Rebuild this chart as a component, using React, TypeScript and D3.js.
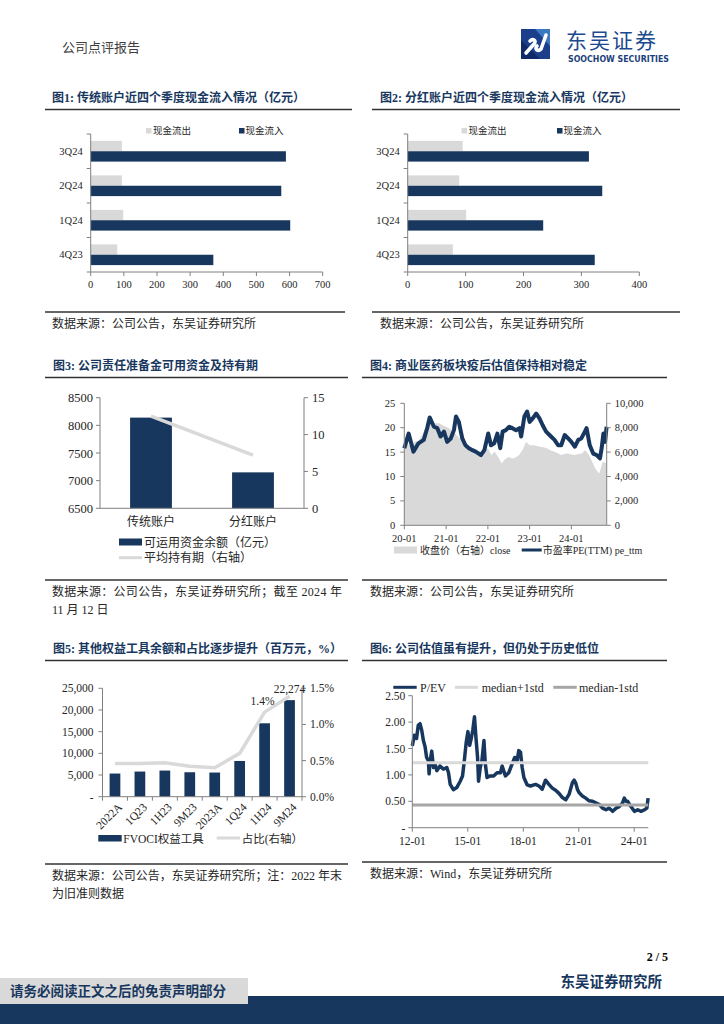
import * as d3 from "d3";

// ---- data ----
const quarters = ["3Q24", "2Q24", "1Q24", "4Q23"];
const tradOutflow = [94, 94, 98, 80];
const tradInflow = [589, 575, 602, 370];
const parOutflow = [95, 89, 101, 78];
const parInflow = [313, 336, 234, 323];

const accounts = ["传统账户", "分红账户"];
const availableFunds = [8140, 7150];
const avgHolding = [12.5, 7.2];

const peSeries: [string, number][] = [
  ["2020-01-01", 15.8], ["2020-02-08", 18.8], ["2020-03-21", 15.1], ["2020-05-04", 16.8], ["2020-06-19", 17.5],
  ["2020-07-19", 19.9], ["2020-08-10", 22.1], ["2020-09-16", 20.2], ["2020-10-16", 19.9], ["2020-11-13", 18.2],
  ["2020-12-13", 19.2], ["2021-01-10", 17.1], ["2021-02-10", 17.8], ["2021-03-10", 19.5], ["2021-03-28", 22.3],
  ["2021-04-22", 21.2], ["2021-05-22", 17.8], ["2021-06-19", 16.4], ["2021-07-19", 15.8], ["2021-08-19", 15.4],
  ["2021-09-16", 15.1], ["2021-11-01", 14.4], ["2021-12-01", 15.4], ["2022-01-04", 18.8], ["2022-01-28", 16.4],
  ["2022-02-25", 16.8], ["2022-03-25", 18.8], ["2022-04-19", 15.8], ["2022-05-10", 19.2], ["2022-06-07", 19.5],
  ["2022-07-07", 20.2], ["2022-08-04", 19.9], ["2022-09-04", 19.5], ["2022-10-04", 19.9], ["2022-10-19", 18.2],
  ["2022-11-16", 22.3], ["2022-12-10", 23.3], ["2023-01-01", 21.2], ["2023-01-28", 21.9], ["2023-02-28", 22.9],
  ["2023-03-28", 21.9], ["2023-04-25", 20.5], ["2023-05-25", 19.2], ["2023-07-07", 18.2], ["2023-08-07", 17.5],
  ["2023-09-07", 16.4], ["2023-10-04", 16.4], ["2023-11-04", 18.5], ["2023-12-04", 17.8], ["2024-01-01", 17.1],
  ["2024-02-01", 16.1], ["2024-03-01", 17.5], ["2024-03-28", 17.8], ["2024-04-28", 19.2], ["2024-05-13", 19.9],
  ["2024-06-10", 16.4], ["2024-07-10", 14.7], ["2024-08-10", 14.4], ["2024-09-07", 13.7], ["2024-09-22", 15.8],
  ["2024-10-07", 18.8], ["2024-10-22", 17.1], ["2024-11-04", 20.2],
];

const closeSeries: [string, number][] = [
  ["2020-01", 6560], ["2020-02", 6640], ["2020-03", 6480], ["2020-04", 6840], ["2020-05", 6920], ["2020-06", 7320],
  ["2020-07", 7960], ["2020-08", 8240], ["2020-09", 8360], ["2020-10", 8360], ["2020-11", 8360], ["2020-12", 8200],
  ["2021-01", 8080], ["2021-02", 7920], ["2021-03", 7680], ["2021-04", 7400], ["2021-05", 7120], ["2021-06", 6800],
  ["2021-07", 6560], ["2021-08", 6360], ["2021-09", 6160], ["2021-10", 6000], ["2021-11", 5880], ["2021-12", 6080],
  ["2022-01", 6320], ["2022-02", 5760], ["2022-03", 6040], ["2022-04", 5600], ["2022-05", 5080], ["2022-06", 5440],
  ["2022-07", 5600], ["2022-08", 5480], ["2022-09", 5560], ["2022-10", 5760], ["2022-11", 6200], ["2022-12", 6840],
  ["2023-01", 6560], ["2023-02", 6560], ["2023-03", 6520], ["2023-04", 6440], ["2023-05", 6400], ["2023-06", 6320],
  ["2023-07", 6160], ["2023-08", 6040], ["2023-09", 5920], ["2023-10", 5760], ["2023-11", 5840], ["2023-12", 5880],
  ["2024-01", 5800], ["2024-02", 5760], ["2024-03", 5840], ["2024-04", 5880], ["2024-05", 6160], ["2024-06", 5800],
  ["2024-07", 5200], ["2024-08", 4600], ["2024-09", 4240], ["2024-10", 5200], ["2024-11", 5080],
];

const fvociPeriods = ["2022A", "1Q23", "1H23", "9M23", "2023A", "1Q24", "1H24", "9M24"];
const fvociBalance = [5340, 5800, 6030, 5640, 5570, 8240, 16930, 22274];
const fvociShare = [0.46, 0.46, 0.47, 0.42, 0.4, 0.6, 1.17, 1.39];

const pevSeries: [string, number][] = [
  ["2012-01-01", 1.55], ["2012-02-10", 1.75], ["2012-03-25", 1.69], ["2012-04-28", 1.94], ["2012-06-01", 1.97],
  ["2012-07-04", 1.85], ["2012-08-07", 1.65], ["2012-09-10", 1.53], ["2012-10-10", 1.33], ["2012-11-13", 1.27],
  ["2012-11-28", 1.02], ["2012-12-16", 1.24], ["2013-01-19", 1.45], ["2013-02-22", 1.14], ["2013-03-25", 1.21],
  ["2013-04-28", 1.08], ["2013-07-01", 1.17], ["2013-09-07", 1.11], ["2013-11-13", 1.14], ["2013-12-16", 1.04],
  ["2014-01-19", 0.82], ["2014-03-22", 0.72], ["2014-05-28", 0.76], ["2014-08-04", 0.88], ["2014-09-19", 0.98],
  ["2014-10-28", 1.3], ["2014-12-01", 1.62], ["2015-01-04", 1.82], ["2015-02-07", 1.56], ["2015-03-10", 1.69],
  ["2015-04-10", 1.85], ["2015-05-13", 2.1], ["2015-06-10", 1.72], ["2015-07-13", 1.33], ["2015-08-01", 0.88],
  ["2015-09-04", 1.14], ["2015-10-07", 1.27], ["2015-11-16", 1.65], ["2015-12-13", 1.21], ["2016-01-16", 0.95],
  ["2016-03-22", 0.98], ["2016-05-25", 0.98], ["2016-08-01", 1.04], ["2016-10-07", 1.04], ["2016-11-10", 1.17],
  ["2017-01-13", 0.98], ["2017-03-19", 1.04], ["2017-05-25", 1.21], ["2017-07-16", 1.33], ["2017-09-01", 1.27],
  ["2017-10-04", 1.46], ["2017-11-07", 1.43], ["2017-12-10", 1.14], ["2018-01-13", 0.95], ["2018-03-19", 0.81],
  ["2018-05-22", 0.79], ["2018-09-01", 0.82], ["2018-11-07", 0.79], ["2019-01-10", 0.73], ["2019-03-16", 0.9],
  ["2019-05-22", 0.82], ["2019-07-28", 0.75], ["2019-10-01", 0.71], ["2019-12-07", 0.65], ["2020-02-13", 0.57],
  ["2020-04-19", 0.53], ["2020-06-22", 0.63], ["2020-08-28", 0.85], ["2020-10-01", 0.9], ["2020-11-04", 0.84],
  ["2020-12-07", 0.72], ["2021-01-10", 0.66], ["2021-03-13", 0.6], ["2021-05-19", 0.56], ["2021-07-25", 0.51],
  ["2021-10-01", 0.5], ["2021-12-04", 0.47], ["2022-02-10", 0.44], ["2022-04-16", 0.37], ["2022-06-22", 0.34],
  ["2022-08-25", 0.37], ["2022-11-01", 0.31], ["2023-01-07", 0.37], ["2023-03-10", 0.4], ["2023-05-16", 0.47],
  ["2023-06-19", 0.56], ["2023-07-22", 0.5], ["2023-08-25", 0.5], ["2023-10-28", 0.4], ["2024-01-04", 0.31],
  ["2024-03-10", 0.34], ["2024-05-16", 0.31], ["2024-07-22", 0.34], ["2024-09-07", 0.37], ["2024-10-01", 0.56],
];
const pevUpper = 1.23;
const pevLower = 0.43;

// ---- style ----
const NAVY = "#17375E";
const LIGHT = "#D9D9D9";
const MID = "#A6A6A6";
const AXIS = "#808080";
const INK = "#262626";
const FONT = '"Liberation Serif","Noto Sans CJK SC",serif';

const parseDay = d3.timeParse("%Y-%m-%d");
const parseMonth = d3.timeParse("%Y-%m");

function Title({ x, y, x1, x2, text }: { x: number; y: number; x1: number; x2: number; text: string }) {
  return (
    <g>
      <text x={x} y={y} fontSize={12} fontWeight={700} fill={NAVY}>{text}</text>
      <line x1={x1} x2={x2} y1={y + 7.5} y2={y + 7.5} stroke="#333" strokeWidth={1.5} />
    </g>
  );
}

function Source({ x, y, x1, x2, lines, fit }: { x: number; y: number; x1: number; x2: number; lines: string[]; fit?: number }) {
  return (
    <g>
      <line x1={x1} x2={x2} y1={y - 16} y2={y - 16} stroke="#333" strokeWidth={1.5} />
      {lines.map((l, i) => (
        <text key={i} x={x} y={y + i * 17.5} fontSize={12} fill={INK}
          textLength={i === 0 && fit ? fit : undefined} lengthAdjust="spacing">{l}</text>
      ))}
    </g>
  );
}

function CashFlow({ left, right, max, outflow, inflow, legendOutX, legendInX }:
  { left: number; right: number; max: number; outflow: number[]; inflow: number[]; legendOutX: number; legendInX: number }) {
  const top = 134, bottom = 272;
  const x = d3.scaleLinear().domain([0, max]).range([left, right]);
  const y = d3.scaleBand<string>().domain(quarters).range([top, bottom]).paddingInner(0.4).paddingOuter(0.2);
  const sub = d3.scaleBand<string>().domain(["out", "in"]).range([0, y.bandwidth()]);
  const bounds = quarters.map((q) => (y(q) ?? 0) - (y.step() * y.paddingInner()) / 2).concat([bottom]);
  return (
    <g>
      {quarters.map((q, i) => (
        <g key={q}>
          <rect x={x(0)} y={(y(q) ?? 0) + (sub("out") ?? 0)} width={x(outflow[i]) - x(0)} height={sub.bandwidth()} fill={LIGHT} />
          <rect x={x(0)} y={(y(q) ?? 0) + (sub("in") ?? 0)} width={x(inflow[i]) - x(0)} height={sub.bandwidth()} fill={NAVY} />
          <text x={left - 8} y={(y(q) ?? 0) + y.bandwidth() / 2 + 3.5} textAnchor="end" fontSize={10.5} fill={INK}>{q}</text>
        </g>
      ))}
      <line x1={left} x2={left} y1={top} y2={bottom} stroke={AXIS} />
      {bounds.map((b, i) => <line key={i} x1={left - 4} x2={left} y1={b} y2={b} stroke={AXIS} />)}
      <line x1={left} x2={right} y1={bottom} y2={bottom} stroke={AXIS} />
      {x.ticks(max / 100).map((t) => (
        <g key={t}>
          <line x1={x(t)} x2={x(t)} y1={bottom} y2={bottom + 4} stroke={AXIS} />
          <text x={x(t)} y={bottom + 16} textAnchor="middle" fontSize={10.5} fill={INK}>{t}</text>
        </g>
      ))}
      <rect x={legendOutX} y={128} width={5.5} height={5.5} fill={LIGHT} />
      <text x={legendOutX + 7} y={134} fontSize={9.5} fill={INK}>现金流出</text>
      <rect x={legendInX} y={128} width={5.5} height={5.5} fill={NAVY} />
      <text x={legendInX + 6.5} y={134} fontSize={9.5} fill={INK}>现金流入</text>
    </g>
  );
}

function ReserveChart() {
  const left = 100, right = 304, top = 397.7, bottom = 508.3;
  const x = d3.scaleBand<string>().domain(accounts).range([left, right]).paddingInner(0.59).paddingOuter(0.295);
  const y = d3.scaleLinear().domain([6500, 8500]).range([bottom, top]);
  const yr = d3.scaleLinear().domain([0, 15]).range([bottom, top]);
  const cx = (a: string) => (x(a) ?? 0) + x.bandwidth() / 2;
  const line = d3.line<number>().x((_, i) => cx(accounts[i])).y((v) => yr(v));
  return (
    <g>
      {accounts.map((a, i) => (
        <rect key={a} x={x(a)} y={y(availableFunds[i])} width={x.bandwidth()} height={bottom - y(availableFunds[i])} fill={NAVY} />
      ))}
      <path d={line(avgHolding) ?? ""} fill="none" stroke={LIGHT} strokeWidth={3.5} />
      <line x1={left} x2={left} y1={top} y2={bottom} stroke={AXIS} />
      <line x1={right} x2={right} y1={top} y2={bottom} stroke={AXIS} />
      <line x1={left} x2={right} y1={bottom} y2={bottom} stroke={AXIS} />
      {y.ticks(4).map((t) => (
        <g key={t}>
          <line x1={left - 4} x2={left} y1={y(t)} y2={y(t)} stroke={AXIS} />
          <text x={left - 7} y={y(t) + 4.5} textAnchor="end" fontSize={12.5} fill={INK}>{t}</text>
        </g>
      ))}
      {yr.ticks(3).map((t) => (
        <g key={t}>
          <line x1={right} x2={right + 4} y1={yr(t)} y2={yr(t)} stroke={AXIS} />
          <text x={right + 8} y={yr(t) + 4.5} fontSize={12.5} fill={INK}>{t}</text>
        </g>
      ))}
      {accounts.map((a) => (
        <text key={a} x={cx(a)} y={526} textAnchor="middle" fontSize={12} fill={INK}>{a}</text>
      ))}
      <rect x={119} y={538.5} width={23} height={7} fill={NAVY} />
      <text x={144} y={546.5} fontSize={12} fill={INK}>可运用资金余额（亿元）</text>
      <line x1={119} x2={142} y1={557.7} y2={557.7} stroke={LIGHT} strokeWidth={3} />
      <text x={144} y={562} fontSize={12} fill={INK}>平均持有期（右轴）</text>
    </g>
  );
}

function PeChart() {
  const left = 404.3, right = 606.7, top = 403.3, bottom = 525.3;
  const x = d3.scaleTime().domain([parseDay("2020-01-01")!, parseDay("2024-11-05")!]).range([left, right]);
  const y = d3.scaleLinear().domain([0, 25]).range([bottom, top]);
  const yr = d3.scaleLinear().domain([0, 10000]).range([bottom, top]);
  const area = d3.area<[string, number]>().x((d) => x(parseMonth(d[0])!)).y0(yr(0)).y1((d) => yr(d[1]));
  const line = d3.line<[string, number]>().x((d) => x(parseDay(d[0])!)).y((d) => y(d[1]));
  const years = d3.timeYear.range(parseDay("2020-01-01")!, parseDay("2024-12-01")!);
  const fmt = d3.timeFormat("%y-%m");
  return (
    <g>
      <path d={area(closeSeries) ?? ""} fill={LIGHT} />
      <path d={line(peSeries) ?? ""} fill="none" stroke={NAVY} strokeWidth={4} strokeLinejoin="round" />
      <line x1={left} x2={left} y1={top} y2={bottom} stroke={AXIS} />
      <line x1={right} x2={right} y1={top} y2={bottom} stroke={AXIS} />
      <line x1={left} x2={right} y1={bottom} y2={bottom} stroke={AXIS} />
      {y.ticks(5).map((t) => (
        <g key={t}>
          <line x1={left - 4} x2={left} y1={y(t)} y2={y(t)} stroke={AXIS} />
          <text x={left - 9} y={y(t) + 3.5} textAnchor="end" fontSize={10.5} fill={INK}>{t}</text>
        </g>
      ))}
      {yr.ticks(5).map((t) => (
        <g key={t}>
          <line x1={right} x2={right + 4} y1={yr(t)} y2={yr(t)} stroke={AXIS} />
          <text x={right + 8} y={yr(t) + 3.5} fontSize={10.5} fill={INK}>{d3.format(",")(t)}</text>
        </g>
      ))}
      {years.map((d) => (
        <g key={+d}>
          <line x1={x(d)} x2={x(d)} y1={bottom} y2={bottom + 4} stroke={AXIS} />
          <text x={x(d)} y={541.5} textAnchor="middle" fontSize={10.5} fill={INK}>{fmt(d)}</text>
        </g>
      ))}
      <rect x={394} y={546.5} width={23} height={7} fill={LIGHT} />
      <text x={420} y={554} fontSize={10} fill={INK}>收盘价（右轴）close</text>
      <line x1={521.7} x2={541.7} y1={550} y2={550} stroke={NAVY} strokeWidth={3} />
      <text x={542.7} y={554} fontSize={10} fill={INK}>市盈率PE(TTM) pe_ttm</text>
    </g>
  );
}

function FvociChart() {
  const left = 102.5, right = 302, top = 688.3, bottom = 796.7;
  const x = d3.scaleBand<string>().domain(fvociPeriods).range([left, right]).paddingInner(0.57).paddingOuter(0.285);
  const y = d3.scaleLinear().domain([0, 25000]).range([bottom, top]);
  const yr = d3.scaleLinear().domain([0, 1.5]).range([bottom, top]);
  const cx = (p: string) => (x(p) ?? 0) + x.bandwidth() / 2;
  const line = d3.line<number>().x((_, i) => cx(fvociPeriods[i])).y((v) => yr(v));
  const bounds = fvociPeriods.map((p) => (x(p) ?? 0) - (x.step() * x.paddingInner()) / 2).concat([right]);
  const last = fvociPeriods.length - 1;
  return (
    <g>
      {fvociPeriods.map((p, i) => (
        <rect key={p} x={x(p)} y={y(fvociBalance[i])} width={x.bandwidth()} height={bottom - y(fvociBalance[i])} fill={NAVY} />
      ))}
      <path d={line(fvociShare) ?? ""} fill="none" stroke={LIGHT} strokeWidth={3.5} />
      <line x1={left} x2={left} y1={top} y2={bottom} stroke={AXIS} />
      <line x1={right} x2={right} y1={top} y2={bottom} stroke={AXIS} />
      <line x1={left} x2={right} y1={bottom} y2={bottom} stroke={AXIS} />
      {bounds.map((b, i) => <line key={i} x1={b} x2={b} y1={bottom} y2={bottom + 4} stroke={AXIS} />)}
      {y.ticks(5).map((t) => (
        <g key={t}>
          <line x1={left - 4} x2={left} y1={y(t)} y2={y(t)} stroke={AXIS} />
          <text x={left - 9} y={y(t) + 4} textAnchor="end" fontSize={11.5} fill={INK}>{t === 0 ? "-" : d3.format(",")(t)}</text>
        </g>
      ))}
      {yr.ticks(3).map((t) => (
        <g key={t}>
          <line x1={right} x2={right + 4} y1={yr(t)} y2={yr(t)} stroke={AXIS} />
          <text x={right + 8} y={yr(t) + 4} fontSize={11.5} fill={INK}>{d3.format(".1f")(t)}%</text>
        </g>
      ))}
      {fvociPeriods.map((p) => (
        <text key={p} transform={`translate(${cx(p) + 5},${805}) rotate(-45)`} textAnchor="end" dy="0.35em" fontSize={11.5} fill={INK}>{p}</text>
      ))}
      <text x={cx(fvociPeriods[last])} y={693} textAnchor="middle" fontSize={11.5} fill={INK}>{d3.format(",")(fvociBalance[last])}</text>
      <text x={cx(fvociPeriods[last - 1]) - 2} y={705} textAnchor="middle" fontSize={11.5} fill={INK}>{d3.format(".1f")(fvociShare[last])}%</text>
      <rect x={98.3} y={835} width={23.4} height={6.5} fill={NAVY} />
      <text x={123.3} y={842.5} fontSize={11.5} fill={INK}>FVOCI权益工具</text>
      <line x1={216.7} x2={240} y1={838} y2={838} stroke={LIGHT} strokeWidth={3} />
      <text x={241.7} y={842.5} fontSize={11.5} fill={INK}>占比(右轴）</text>
    </g>
  );
}

function PevChart() {
  const left = 412.3, right = 648.3, top = 695.7, bottom = 827.7;
  const x = d3.scaleTime().domain([parseDay("2012-01-01")!, parseDay("2024-10-05")!]).range([left, right]);
  const y = d3.scaleLinear().domain([0, 2.5]).range([bottom, top]);
  const line = d3.line<[string, number]>().x((d) => x(parseDay(d[0])!)).y((d) => y(d[1]));
  const years = d3.timeYear.range(parseDay("2012-01-01")!, parseDay("2024-12-01")!).filter((_, i) => i % 3 === 0);
  const fmt = d3.timeFormat("%y-%m");
  return (
    <g>
      <path d={line(pevSeries) ?? ""} fill="none" stroke={NAVY} strokeWidth={3.5} strokeLinejoin="round" />
      <line x1={x.range()[0]} x2={x.range()[1]} y1={y(pevUpper)} y2={y(pevUpper)} stroke={LIGHT} strokeWidth={3} />
      <line x1={x.range()[0]} x2={x.range()[1]} y1={y(pevLower)} y2={y(pevLower)} stroke={MID} strokeWidth={3} />
      <line x1={left} x2={left} y1={top} y2={bottom} stroke={AXIS} />
      <line x1={left} x2={right} y1={bottom} y2={bottom} stroke={AXIS} />
      {y.ticks(5).map((t) => (
        <g key={t}>
          <line x1={left - 4} x2={left} y1={y(t)} y2={y(t)} stroke={AXIS} />
          <text x={left - 7} y={y(t) + 4} textAnchor="end" fontSize={11.5} fill={INK}>{t === 0 ? "-" : d3.format(".2f")(t)}</text>
        </g>
      ))}
      {years.map((d) => (
        <g key={+d}>
          <line x1={x(d)} x2={x(d)} y1={bottom} y2={bottom + 4} stroke={AXIS} />
          <text x={x(d)} y={845} textAnchor="middle" fontSize={11.5} fill={INK}>{fmt(d)}</text>
        </g>
      ))}
      <line x1={393.3} x2={416.7} y1={687.3} y2={687.3} stroke={NAVY} strokeWidth={3} />
      <text x={420} y={691.5} fontSize={12} fill={INK}>P/EV</text>
      <line x1={455} x2={478} y1={687.3} y2={687.3} stroke={LIGHT} strokeWidth={3} />
      <text x={481.7} y={691.5} fontSize={12} fill={INK}>median+1std</text>
      <line x1={553.3} x2={576.7} y1={687.3} y2={687.3} stroke={MID} strokeWidth={3} />
      <text x={579} y={691.5} fontSize={12} fill={INK}>median-1std</text>
    </g>
  );
}

function Logo() {
  return (
    <g>
      <rect x={521} y={29} width={29} height={30} fill="#1C3F8C" />
      <path d="M521,59 L521,40 L540,59 Z" fill="#0F2A66" />
      <path d="M535,29 L550,29 L550,46 Z" fill="#3A78C2" />
      <path d="M526,53 L534,44 C537,41 533,38 530,41 M537,46 C534,49 538,52 541,49 L546,35"
        fill="none" stroke="#fff" strokeWidth={3.6} strokeLinecap="round" />
      <text x={566} y={48} fontSize={21} fill="#1C4A8E" letterSpacing={2} fontFamily='"Noto Sans CJK SC",sans-serif'>东吴证券</text>
      <text x={568} y={61.5} fontSize={8} fontWeight={700} fill="#1C3F7A" textLength={101} lengthAdjust="spacingAndGlyphs"
        fontFamily='"DejaVu Sans",sans-serif'>SOOCHOW SECURITIES</text>
    </g>
  );
}

export default function App() {
  return (
    <svg width={724} height={1024} viewBox="0 0 724 1024" fontFamily={FONT}
      style={{ position: "absolute", left: 0, top: 0, background: "#fff", display: "block" }}>
      <rect width={724} height={1024} fill="#fff" />
      <text x={62} y={52} fontSize={13} fill="#404040">公司点评报告</text>
      <Logo />

      <Title x={52} y={102} x1={45} x2={352} text="图1: 传统账户近四个季度现金流入情况（亿元）" />
      <Title x={380} y={102} x1={372} x2={680} text="图2: 分红账户近四个季度现金流入情况（亿元）" />
      <CashFlow left={90.7} right={322.7} max={700} outflow={tradOutflow} inflow={tradInflow} legendOutX={146} legendInX={239} />
      <CashFlow left={407.7} right={639.3} max={400} outflow={parOutflow} inflow={parInflow} legendOutX={461.5} legendInX={557} />
      <Source x={52} y={328} x1={45} x2={345} lines={["数据来源：公司公告，东吴证券研究所"]} />
      <Source x={380} y={328} x1={372} x2={680} lines={["数据来源：公司公告，东吴证券研究所"]} />

      <Title x={53} y={370} x1={45} x2={348} text="图3: 公司责任准备金可用资金及持有期" />
      <Title x={370} y={370} x1={362} x2={667} text="图4: 商业医药板块疫后估值保持相对稳定" />
      <ReserveChart />
      <PeChart />
      <Source x={52} y={596} x1={45} x2={348} fit={290} lines={["数据来源：公司公告，东吴证券研究所；截至 2024 年", "11 月 12 日"]} />
      <Source x={370} y={596} x1={362} x2={667} lines={["数据来源：公司公告，东吴证券研究所"]} />

      <Title x={53} y={653} x1={45} x2={348} text="图5: 其他权益工具余额和占比逐步提升（百万元，%）" />
      <Title x={370} y={653} x1={362} x2={667} text="图6: 公司估值虽有提升，但仍处于历史低位" />
      <FvociChart />
      <PevChart />
      <Source x={52} y={880} x1={45} x2={348} fit={290} lines={["数据来源：公司公告，东吴证券研究所；注：2022 年末", "为旧准则数据"]} />
      <Source x={370} y={878} x1={362} x2={667} lines={["数据来源：Wind，东吴证券研究所"]} />

      <text x={668} y={961} textAnchor="end" fontSize={12} fontWeight={700} fill="#000">2 / 5</text>
      <text x={662} y={987} textAnchor="end" fontSize={14.5} fontWeight={700} fill={NAVY}>东吴证券研究所</text>
      <rect x={0} y={996} width={724} height={28} fill={NAVY} />
      <rect x={0} y={978} width={248} height={26} fill={LIGHT} />
      <text x={10} y={996} fontSize={13.5} fontWeight={700} fill={NAVY}>请务必阅读正文之后的免责声明部分</text>
    </svg>
  );
}
